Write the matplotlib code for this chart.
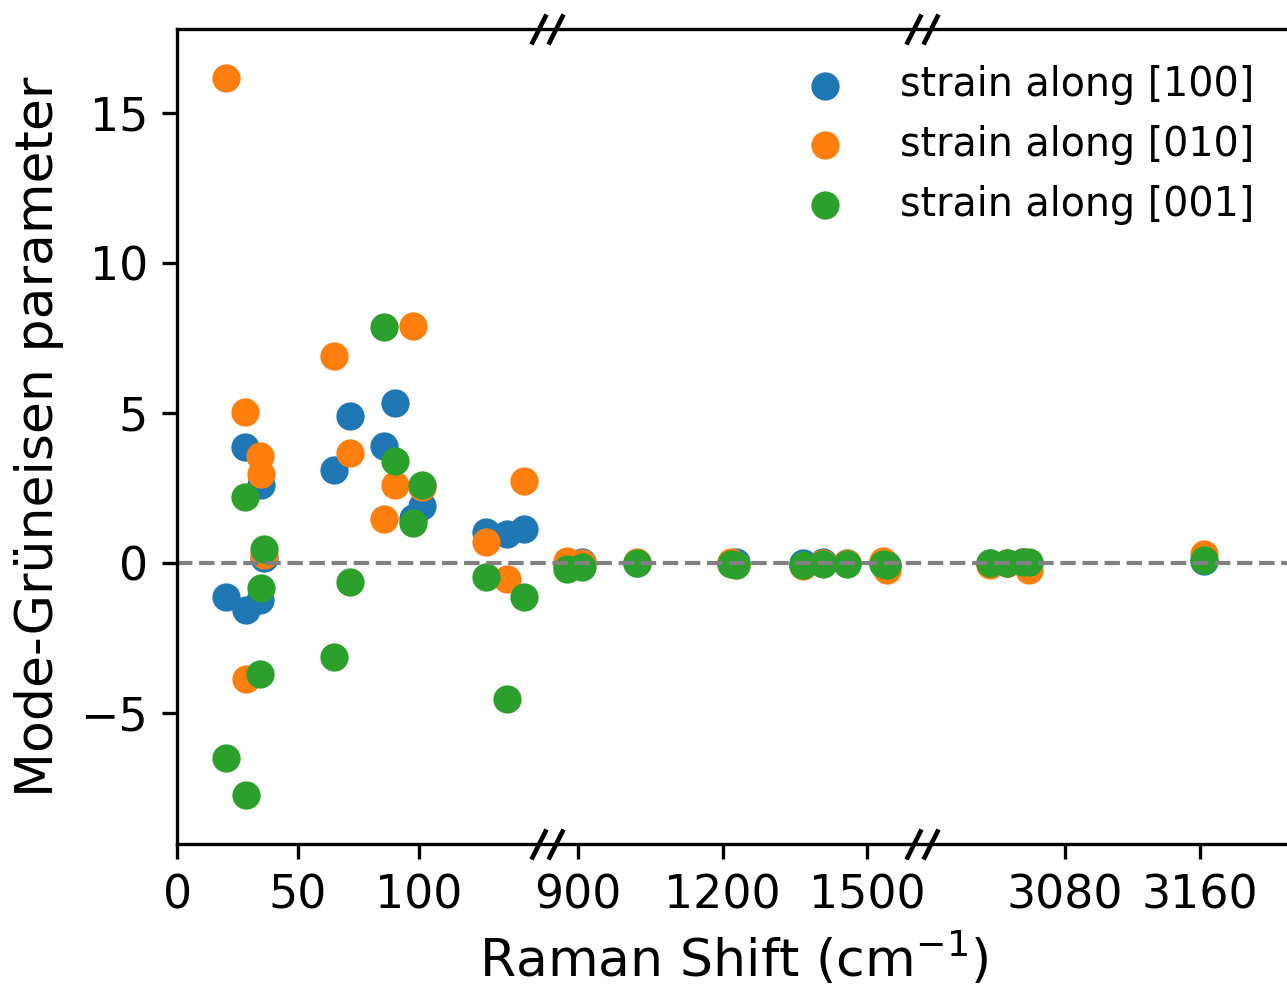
"""Mode-Grüneisen parameters vs Raman shift, broken x axis (three segments)."""

import numpy as np
import matplotlib

matplotlib.use("Agg")
import matplotlib.pyplot as plt  # noqa: E402
from matplotlib.path import Path  # noqa: E402

# mode frequencies (cm^-1) and Grüneisen parameter for each strain direction
freq = [20.0, 28.0, 28.3, 34.3, 34.8, 35.8, 65.0, 71.5, 85.8, 90.3, 97.5, 101.4,
        127.9, 136.7, 143.6, 876, 907, 1022, 1217, 1228, 1367, 1409, 1457,
        1532, 1540, 3036, 3046, 3055, 3059, 3162]
gamma_100 = [-1.14, 3.87, -1.56, -1.23, 2.62, 0.17, 3.12, 4.90, 3.91, 5.34, 1.50, 1.92,
             1.04, 0.97, 1.15, -0.05, 0.04, 0.0, 0.0, 0.03, 0.0, 0.05, 0.0,
             0.0, -0.05, 0.0, 0.0, 0.05, 0.0, 0.08]
gamma_010 = [16.19, 5.04, -3.87, 3.56, 2.99, 0.27, 6.90, 3.67, 1.49, 2.62, 7.92, 2.53,
             0.71, -0.51, 2.74, 0.08, 0.0, 0.05, 0.05, -0.05, -0.08, 0.02, 0.0,
             0.08, -0.23, -0.05, 0.02, 0.05, -0.23, 0.30]
gamma_001 = [-6.49, 2.21, -7.72, -3.70, -0.84, 0.49, -3.14, -0.62, 7.89, 3.41, 1.35, 2.62,
             -0.46, -4.52, -1.12, -0.18, -0.13, 0.0, -0.03, -0.06, -0.05, -0.04, -0.02,
             -0.03, -0.05, 0.0, 0.0, 0.05, 0.05, 0.12]
labels = ["strain along [100]", "strain along [010]", "strain along [001]"]
colors = ["tab:blue", "tab:orange", "tab:green"]

# broken axis: data segments and where they sit along the axis
segments = [(0, 153), (834.4, 1613), (2995.4, 3213)]
seg_len = [369.4, 375.0, 368.3]
xticks = [0, 50, 100, 900, 1200, 1500, 3080, 3160]

XP, UP = [], []
u = 0.0
for (a, b), w in zip(segments, seg_len):
    XP += [a, b]
    UP += [u + 1e-6, u + w]
    u += w
UP[0] = 0.0


def fwd(x):
    return np.interp(x, XP, UP)


def inv(v):
    return np.interp(v, UP, XP)


fig = plt.figure(figsize=(4.29, 3.29), dpi=300)
ax = fig.add_axes([0.1378, 0.1446, 1.0023 - 0.1378, 0.9703 - 0.1446])
ax.set_xscale("function", functions=(fwd, inv))

for g, lab, c in zip([gamma_100, gamma_010, gamma_001], labels, colors):
    ax.scatter(freq, g, s=46, color=c, label=lab, linewidths=0)

ax.axhline(0, color="gray", ls="--", lw=1.0)

ax.set_xlim(segments[0][0], segments[-1][1])
ax.set_ylim(-9.37, 17.8)
ax.set_xticks(xticks)
ax.set_xticklabels([str(t) for t in xticks])
ax.set_yticks([-5, 0, 5, 10, 15])
ax.tick_params(labelsize=11)
ax.set_xlabel("Raman Shift (cm$^{-1}$)", fontsize=12.5, labelpad=3)
ax.set_ylabel("Mode-Grüneisen parameter", fontsize=12.5)

# "//" break marks on top and bottom spines
brk = Path([(-16, -15), (-1, 15), (1, -15), (16, 15)],
           [Path.MOVETO, Path.LINETO, Path.MOVETO, Path.LINETO])
for a, b in zip(segments[:-1], segments[1:]):
    ax.plot([a[1], a[1]], [0, 1], transform=ax.get_xaxis_transform(),
            ls="none", marker=brk, ms=7.7, mew=1.1, mec="k", mfc="none",
            clip_on=False, zorder=5)

ax.legend(loc="upper right", frameon=False, fontsize=9.5, handletextpad=0.9)

fig.savefig("out.png", dpi=300)
